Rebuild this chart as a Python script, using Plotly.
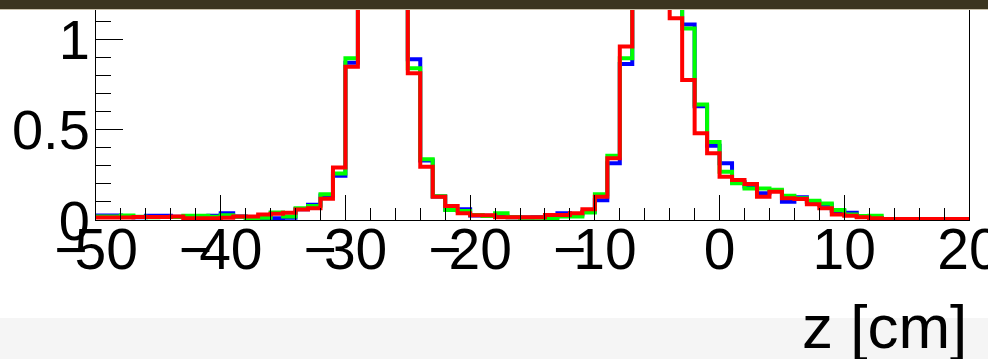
import plotly.graph_objects as go

# bin lower edges (1 cm bins from -50 to 20)
bin_low = list(range(-50, 20))
bin_high_last = 20

blue = [0.025, 0.025, 0.018, 0.015, 0.024, 0.024, 0.018, 0.015, 0.018, 0.024,
        0.038, 0.020, 0.015, 0.010, 0.010, 0.012, 0.060, 0.085, 0.135, 0.245,
        0.871, 1.9, 3.0, 3.2, 2.1, 0.890, 0.330, 0.130, 0.058, 0.059,
        0.025, 0.024, 0.020, 0.015, 0.014, 0.015, 0.020, 0.037, 0.030, 0.045,
        0.110, 0.314, 0.864, 2.2, 3.0, 2.4, 1.35, 1.083, 0.630, 0.411,
        0.314, 0.210, 0.185, 0.148, 0.160, 0.101, 0.126, 0.100, 0.085, 0.050,
        0.040, 0.018, 0.012, 0.005, 0.005, 0.005, 0.005, 0.005, 0.005, 0.005]
green = [0.020, 0.020, 0.025, 0.018, 0.015, 0.016, 0.016, 0.024, 0.024, 0.018,
         0.026, 0.018, 0.005, 0.012, 0.042, 0.020, 0.065, 0.078, 0.142, 0.258,
         0.895, 2.0, 3.1, 3.2, 2.15, 0.840, 0.336, 0.132, 0.055, 0.050,
         0.028, 0.022, 0.037, 0.015, 0.012, 0.013, 0.008, 0.020, 0.020, 0.042,
         0.142, 0.356, 0.895, 2.1, 2.9, 2.3, 1.40, 1.06, 0.640, 0.432,
         0.267, 0.203, 0.175, 0.175, 0.168, 0.134, 0.120, 0.107, 0.092, 0.055,
         0.030, 0.022, 0.024, 0.005, 0.005, 0.005, 0.005, 0.005, 0.005, 0.005]
red = [0.014, 0.014, 0.014, 0.016, 0.016, 0.016, 0.020, 0.010, 0.010, 0.010,
       0.012, 0.020, 0.020, 0.030, 0.035, 0.040, 0.058, 0.065, 0.118, 0.290,
       0.849, 2.0, 3.05, 3.25, 2.1, 0.812, 0.295, 0.129, 0.078, 0.037,
       0.026, 0.026, 0.015, 0.015, 0.015, 0.015, 0.028, 0.028, 0.037, 0.059,
       0.129, 0.342, 0.960, 2.3, 3.1, 2.5, 1.117, 0.775, 0.480, 0.369,
       0.240, 0.221, 0.200, 0.129, 0.157, 0.120, 0.116, 0.087, 0.065, 0.031,
       0.024, 0.015, 0.009, 0.006, 0.006, 0.006, 0.006, 0.006, 0.006, 0.006]

x_tickvals = [-50, -40, -30, -20, -10, 0, 10, 20]
# ROOT-style labels: the minus sign slightly overlaps the first digit
MINUS = "<span style='letter-spacing:-13px'>\u2212</span>"
x_ticktext = [MINUS + "50", MINUS + "40", MINUS + "30", MINUS + "20", MINUS + "10", "0", "10", "20"]
y_tickvals = [0, 0.5, 1]
y_ticktext = ["0", "0.5", "1"]
x_title = "z [cm]"

FONT = "Liberation Sans, Arial, Helvetica, sans-serif"
W, H = 988, 359
ML, MR, MT, MB = 96, 19, 0, 139
PH = H - MT - MB  # plot height in px

def py(p):
    """pixel row (from top) -> paper y"""
    return (H - MB - p) / PH

fig = go.Figure()
for vals, col in [(blue, "#0000ff"), (green, "#00ff00"), (red, "#ff0000")]:
    xs = bin_low + [bin_high_last]
    ys = vals + [vals[-1]]
    fig.add_trace(go.Scatter(x=xs, y=ys, mode="lines",
                             line=dict(color=col, width=4, shape="hv"),
                             showlegend=False, hoverinfo="skip"))

fig.update_layout(
    width=W, height=H,
    margin=dict(l=ML, r=MR, t=MT, b=MB, autoexpand=False),
    paper_bgcolor="white", plot_bgcolor="white",
    font=dict(family=FONT, color="black"),
    showlegend=False,
)
fig.update_xaxes(
    range=[-50, 20.0001], showgrid=False, zeroline=False,
    showline=True, linecolor="black", linewidth=1, mirror=True,
    ticks="inside", ticklen=25, tickwidth=1, tickcolor="black",
    tickvals=x_tickvals, ticktext=x_ticktext,
    tickfont=dict(size=57, family=FONT, color="black"),
    ticklabelstandoff=-20, ticklabeloverflow="allow",
    minor=dict(ticks="inside", ticklen=12, tickwidth=1, tickcolor="black", dtick=2, showgrid=False),
)
fig.update_yaxes(
    range=[0, 1.218], showgrid=False, zeroline=False,
    showline=True, linecolor="black", linewidth=1, mirror=True,
    ticks="inside", ticklen=27, tickwidth=1, tickcolor="black",
    tickvals=y_tickvals, ticktext=y_ticktext,
    tickfont=dict(size=56, family=FONT, color="black"),
    ticklabelstandoff=-6, ticklabeloverflow="allow",
    minor=dict(ticks="inside", ticklen=15, tickwidth=1, tickcolor="black", dtick=0.1, showgrid=False),
)

# light grey strip at the bottom
fig.add_shape(type="rect", xref="paper", yref="paper", x0=-0.2, x1=1.1,
              y0=py(H + 5), y1=py(318), fillcolor="#f5f5f5", line_width=0, layer="below")
# dark bar at the top with a thin light edge
fig.add_shape(type="rect", xref="paper", yref="paper", x0=-0.2, x1=1.1,
              y0=py(10), y1=py(-5), fillcolor="#c9c2ad", line_width=0, layer="above")
fig.add_shape(type="rect", xref="paper", yref="paper", x0=-0.2, x1=1.1,
              y0=py(9), y1=py(-5), fillcolor="#3b3520", line_width=0, layer="above")

fig.add_annotation(text=x_title, xref="paper", yref="paper", x=1, y=py(326),
                   xanchor="right", yanchor="middle", showarrow=False,
                   font=dict(size=62, family=FONT, color="black"))

fig.write_html("out.html", config={"displayModeBar": False, "staticPlot": True},
               post_script="document.body.style.margin='0px';")
